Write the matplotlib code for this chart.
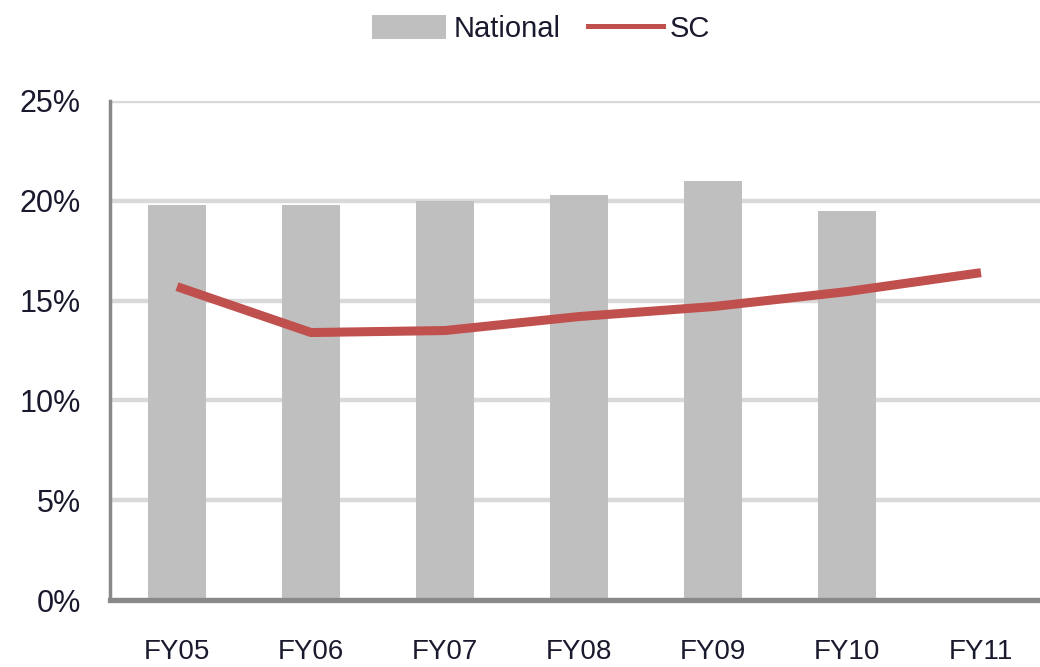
import matplotlib
matplotlib.use("Agg")
import matplotlib.pyplot as plt
from matplotlib.patches import Patch
from matplotlib.lines import Line2D
from matplotlib.ticker import FuncFormatter

categories = ["FY05", "FY06", "FY07", "FY08", "FY09", "FY10", "FY11"]
national = [19.8, 19.8, 20.0, 20.3, 21.0, 19.5, None]
sc = [15.7, 13.4, 13.5, 14.2, 14.7, 15.45, 16.4]
yticks = [0, 5, 10, 15, 20, 25]

plt.rcParams['font.family'] = ['Liberation Sans', 'DejaVu Sans']

fig = plt.figure(figsize=(10.4, 6.67), dpi=100)
ax = fig.add_axes([110/1040, 1 - 600/667, 938/1040, (600 - 101)/667])

x = list(range(len(categories)))
bx = [i for i, v in zip(x, national) if v is not None]
bv = [v for v in national if v is not None]
ax.bar(bx, bv, width=0.43, color="#bfbfbf", zorder=2)
ax.plot(x, sc, color="#c0504d", lw=6.5, zorder=3, solid_capstyle='butt')

ax.set_xlim(-0.5, 6.5)
ax.set_ylim(0, 25)
ax.set_yticks(yticks)
ax.yaxis.set_major_formatter(FuncFormatter(lambda v, p: f"{int(v)}%"))
ax.set_xticks(x)
ax.set_xticklabels(categories)
ax.grid(axis='y', color="#d9d9d9", lw=3.2, zorder=0)
ax.set_axisbelow(True)
for s in ['top', 'right']:
    ax.spines[s].set_visible(False)
ax.spines['left'].set_color("#898989")
ax.spines['left'].set_linewidth(2.5)
ax.spines['bottom'].set_color("#898989")
ax.spines['bottom'].set_linewidth(3.8)
ax.spines['bottom'].set_zorder(4)
ax.tick_params(axis='both', length=0, colors="#1a1a2e")
ax.tick_params(axis='y', pad=21, labelsize=22)
ax.tick_params(axis='x', pad=28, labelsize=20)

handles = [Patch(facecolor="#bfbfbf", edgecolor='none'),
           Line2D([0], [0], color="#c0504d", lw=3.6)]
fig.legend(handles, ["National", "SC"], loc='center', bbox_to_anchor=(541/1040, 1 - 29/667),
           ncol=2, frameon=False, fontsize=21, handlelength=2.55, handleheight=0.85,
           handletextpad=0.25, columnspacing=0.95, labelcolor="#1a1a2e")

fig.savefig("out.png", dpi=100)
